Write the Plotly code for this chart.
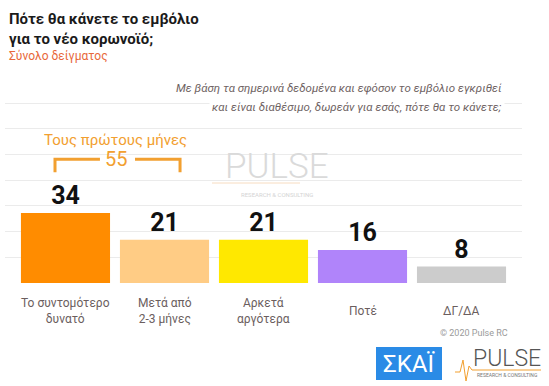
import plotly.graph_objects as go

# ---- data ----
categories = ["Το συντομότερο<br>δυνατό", "Μετά από<br>2-3 μήνες", "Αρκετά<br>αργότερα", "Ποτέ", "ΔΓ/ΔΑ"]
values = [34, 21, 21, 16, 8]
bar_colors = ["#FF8C00", "#FFCC85", "#FFE800", "#B084FA", "#CCCCCC"]
group_label = "Τους πρώτους μήνες"
group_total = 55
title_lines = ["Πότε θα κάνετε το εμβόλιο", "για το νέο κορωνοϊό;"]
subtitle = "Σύνολο δείγματος"
question_lines = ["Με βάση τα σημερινά δεδομένα και εφόσον το εμβόλιο εγκριθεί",
                  "και είναι διαθέσιμο, δωρεάν για εσάς, πότε θα το κάνετε;"]
copyright_txt = "© 2020 Pulse RC"

W, H = 549, 386
L, R, T, B = 5, 27, 77, 103
PW, PH = W - L - R, H - T - B


def px(xp):
    return (xp - L) / PW


def py(yp):
    return (H - B - yp) / PH


FONT = "Roboto"
xs = list(range(len(categories)))

fig = go.Figure()
fig.add_trace(go.Bar(
    x=xs, y=values, marker=dict(color=bar_colors, line=dict(width=0)),
    width=0.9,
    text=[str(v) for v in values], textposition="outside",
    textfont=dict(family=FONT, size=25, color="#111111", weight="bold"),
    cliponaxis=False, hoverinfo="skip",
))

annotations = []
# title
annotations.append(dict(text="<b>" + title_lines[0] + "<br>" + title_lines[1] + "</b>",
                        xref="paper", yref="paper", x=px(7), y=py(8), xanchor="left", yanchor="top",
                        align="left", showarrow=False,
                        font=dict(family=FONT, size=15, color="#1a1a1a")))
annotations.append(dict(text=subtitle, xref="paper", yref="paper", x=px(7), y=py(56),
                        xanchor="left", yanchor="middle", showarrow=False,
                        font=dict(family=FONT, size=12, color="#E8683A")))
for line, yp in zip(question_lines, [88, 107]):
    annotations.append(dict(text="<i>" + line + "</i>", xref="paper", yref="paper", x=px(505), y=py(yp),
                            xanchor="right", yanchor="middle", align="right", showarrow=False,
                            bgcolor="white", borderpad=2,
                            font=dict(family=FONT, size=11.5, color="#6E6262")))
# category labels
for xi, c in zip(xs, categories):
    annotations.append(dict(text=c, xref="x", yref="paper", x=xi, y=py(311), xanchor="center",
                            yanchor="middle", showarrow=False, align="center",
                            font=dict(family=FONT, size=12, color="#6B5E5E")))
# group bracket label
annotations.append(dict(text=group_label, xref="x", yref="paper", x=0.51, y=py(140),
                        xanchor="center", yanchor="middle", showarrow=False,
                        font=dict(family=FONT, size=15, color="#F2A030")))
annotations.append(dict(text=str(group_total), xref="x", yref="paper", x=0.51, y=py(159),
                        xanchor="center", yanchor="middle", showarrow=False,
                        font=dict(family=FONT, size=20, color="#F2A030")))
# watermark
annotations.append(dict(text="PULSE", xref="paper", yref="paper", x=px(277), y=py(166),
                        xanchor="center", yanchor="middle", showarrow=False,
                        font=dict(family=FONT, size=35, color="#DADADA", weight=300)))
annotations.append(dict(text="RESEARCH & CONSULTING", xref="paper", yref="paper", x=px(277), y=py(194),
                        xanchor="center", yanchor="middle", showarrow=False,
                        font=dict(family=FONT, size=6, color="#D4D4D4")))
# copyright
annotations.append(dict(text=copyright_txt, xref="paper", yref="paper", x=px(510), y=py(333),
                        xanchor="right", yanchor="middle", showarrow=False,
                        font=dict(family=FONT, size=9, color="#9A9A9A")))
# logos
annotations.append(dict(text="ΣΚΑΪ", xref="paper", yref="paper", x=px(409), y=py(364),
                        xanchor="center", yanchor="middle", showarrow=False,
                        font=dict(family=FONT, size=24, color="white")))
annotations.append(dict(text="PULSE", xref="paper", yref="paper", x=px(507), y=py(358),
                        xanchor="center", yanchor="middle", showarrow=False,
                        font=dict(family=FONT, size=23, color="#555555", weight=300)))
annotations.append(dict(text="RESEARCH & CONSULTING", xref="paper", yref="paper", x=px(507), y=py(375),
                        xanchor="center", yanchor="middle", showarrow=False,
                        font=dict(family=FONT, size=5, color="#777777")))

ORANGE = "#F2A030"
yb_top = (H - B - 159) / (PH / 100)
yb_bot = (H - B - 172) / (PH / 100)
shapes = [
    dict(type="path", xref="x", yref="y",
         path=f"M -0.106,{yb_bot} L -0.106,{yb_top} L 0.348,{yb_top}",
         line=dict(color=ORANGE, width=3)),
    dict(type="path", xref="x", yref="y",
         path=f"M 0.702,{yb_top} L 1.157,{yb_top} L 1.157,{yb_bot}",
         line=dict(color=ORANGE, width=3)),
    # watermark heartbeat line
    dict(type="line", xref="paper", yref="paper", x0=px(212), x1=px(300), y0=py(183), y1=py(183),
         line=dict(color="#F7DCC0", width=1), layer="below"),
    # SKAI box
    dict(type="rect", xref="paper", yref="paper", x0=px(376), x1=px(442), y0=py(347), y1=py(380),
         fillcolor="#2A8BE6", line=dict(width=0)),
    # pulse heartbeat
    dict(type="path", xref="paper", yref="paper",
         path=(f"M {px(455)},{py(372)} L {px(460)},{py(372)} L {px(463)},{py(360)} L {px(466)},{py(381)} "
               f"L {px(469)},{py(366)} L {px(472)},{py(370)} L {px(541)},{py(370)}"),
         line=dict(color="#F2A030", width=1)),
]

fig.update_layout(
    width=W, height=H,
    margin=dict(l=L, r=R, t=T, b=B, pad=0),
    plot_bgcolor="white", paper_bgcolor="white",
    showlegend=False,
    bargap=0.1,
    xaxis=dict(range=[-0.611, 4.611], showticklabels=False, showgrid=False, zeroline=False,
               showline=False, ticks="", fixedrange=True),
    yaxis=dict(range=[0, 100.2], dtick=12.5, tick0=0, showgrid=True, gridcolor="#EBEBEB", gridwidth=1,
               showticklabels=False, zeroline=False, showline=False, ticks="", fixedrange=True),
    annotations=annotations,
    shapes=shapes,
)

fig.write_html("out.html", config={"displayModeBar": False},
               post_script="document.body.style.margin='0';document.body.style.padding='0';")
